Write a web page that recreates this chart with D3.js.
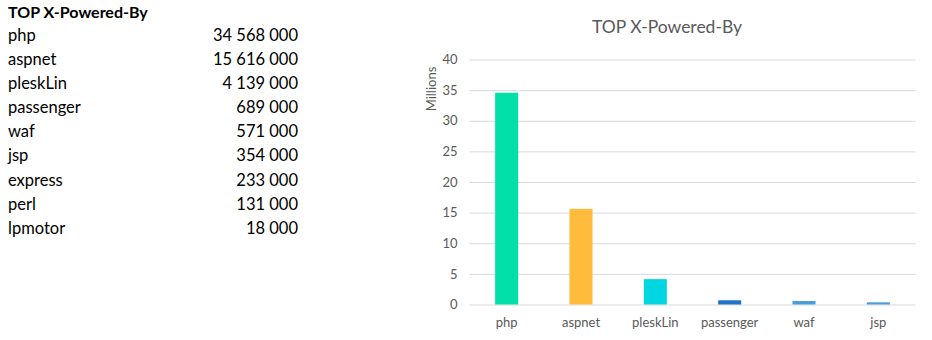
<!DOCTYPE html>
<html><head><meta charset="utf-8">
<script src="https://cdn.jsdelivr.net/npm/d3@7"></script>
<style>body{margin:0;background:#fff}svg{display:block}</style>
</head><body>
<svg id="c" width="932" height="340"></svg>
<script>
const tableNames = ["php","aspnet","pleskLin","passenger","waf","jsp","express","perl","lpmotor"];
const tableValues = [34568000,15616000,4139000,689000,571000,354000,233000,131000,18000];
const chartCategories = ["php","aspnet","pleskLin","passenger","waf","jsp"];
const chartValues = [34.568,15.616,4.139,0.689,0.571,0.354];
const barColors = ["#00E0A8","#FFBB3C","#00D6E0","#1F72C6","#4B9CDA","#4B9CDA"];
const yTicks = [0,5,10,15,20,25,30,35,40];

const svg = d3.select("#c");
const font = "Lato, 'Open Sans', sans-serif";
const fmt = v => d3.format(",")(v).replace(/,/g, " ");

// table
svg.append("text").attr("x",8).attr("y",18).attr("font-family",font).attr("font-weight","bold")
  .attr("font-size",16).attr("fill","#000").text("TOP X-Powered-By");
const rowY = d3.scalePoint().domain(tableNames).range([35,228]);
const rows = svg.append("g");
rows.selectAll("text.n").data(tableNames).join("text")
  .attr("x",8).attr("y",d=>rowY(d)).attr("dy","0.35em")
  .attr("font-family",font).attr("font-size",16.5).attr("fill","#000").text(d=>d);
rows.selectAll("text.v").data(tableValues).join("text")
  .attr("x",298).attr("y",(d,i)=>rowY(tableNames[i])).attr("dy","0.35em").attr("text-anchor","end")
  .attr("font-family",font).attr("font-size",16.5).attr("fill","#000").attr("xml:space","preserve").text(d=>fmt(d));

// chart
const x = d3.scaleBand().domain(chartCategories).range([469.5,915.5]).paddingInner(0.69).paddingOuter(0.345);
const y = d3.scaleLinear().domain([0,40]).range([304.5,59.5]);

svg.append("text").attr("x",667).attr("y",27).attr("dy","0.35em").attr("text-anchor","middle")
  .attr("font-family",font).attr("font-size",17.5).attr("fill","#595959").text("TOP X-Powered-By");

const yAxis = svg.append("g").attr("transform","translate(469.5,0)")
  .call(d3.axisLeft(y).tickValues(yTicks).tickSize(-446).tickPadding(12));
yAxis.select(".domain").remove();
yAxis.selectAll("line").attr("stroke","#d9d9d9").attr("stroke-width",1);
yAxis.selectAll("text").attr("font-family",font).attr("font-size",13).attr("fill","#595959");

svg.append("text").attr("transform","translate(431,89) rotate(-90)").attr("dy","0.35em")
  .attr("text-anchor","middle").attr("font-family",font).attr("font-size",13).attr("fill","#595959").text("Millions");

svg.append("g").selectAll("rect").data(chartValues).join("rect")
  .attr("x",(d,i)=>x(chartCategories[i])).attr("width",x.bandwidth())
  .attr("y",d=>y(d)).attr("height",d=>y(0)-y(d)).attr("fill",(d,i)=>barColors[i]);

const xAxis = svg.append("g").attr("transform","translate(0,304.5)")
  .call(d3.axisBottom(x).tickSize(0).tickPadding(13));
xAxis.select(".domain").remove();
xAxis.selectAll("text").attr("font-family",font).attr("font-size",13).attr("fill","#595959");
</script>
</body></html>
